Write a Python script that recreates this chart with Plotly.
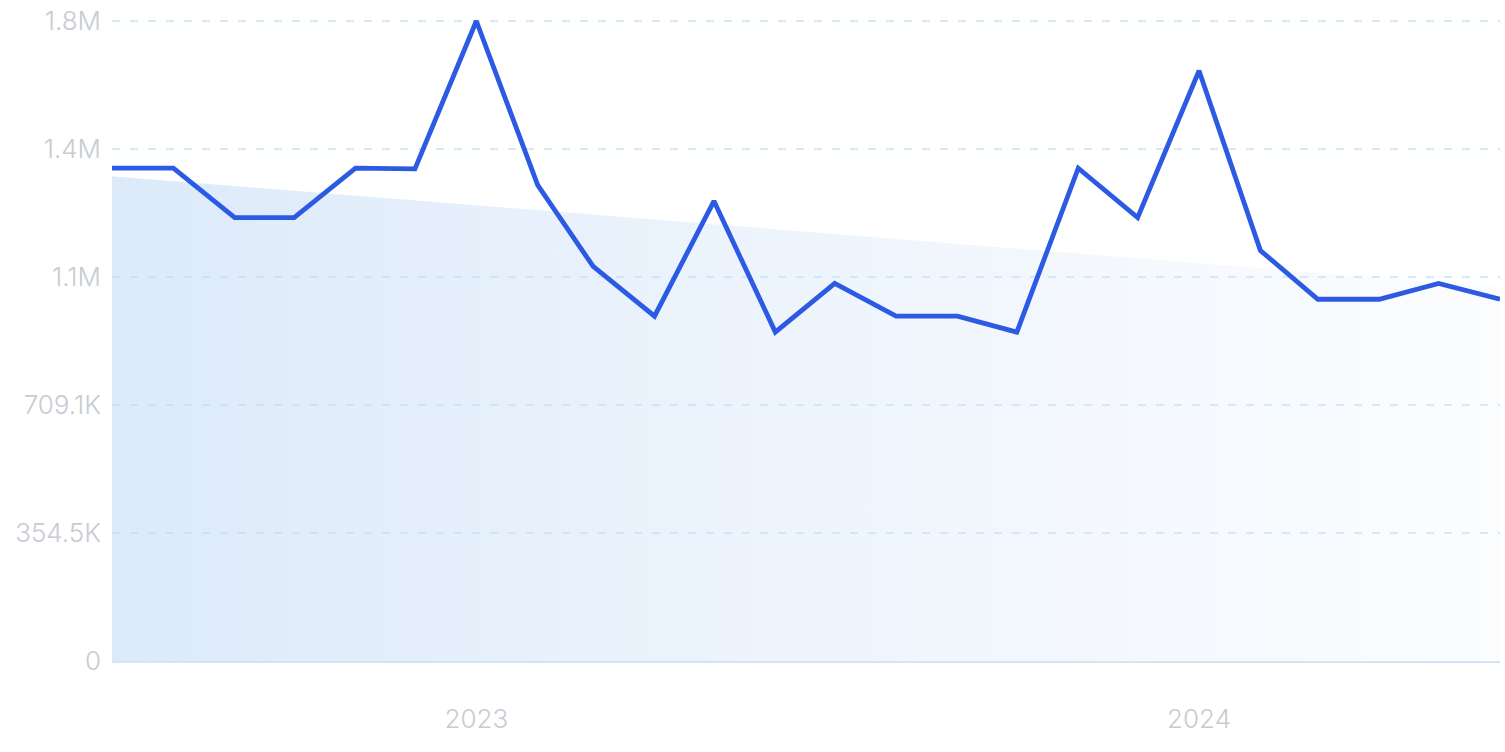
import plotly.graph_objects as go

months = [
    "2022-07-01", "2022-08-01", "2022-09-01", "2022-10-01", "2022-11-01", "2022-12-01",
    "2023-01-01", "2023-02-01", "2023-03-01", "2023-04-01", "2023-05-01", "2023-06-01",
    "2023-07-01", "2023-08-01", "2023-09-01", "2023-10-01", "2023-11-01", "2023-12-01",
    "2024-01-01", "2024-02-01", "2024-03-01", "2024-04-01", "2024-05-01", "2024-06-01",
]
volume = [
    1365000, 1365000, 1228000, 1228000, 1365000, 1363000,
    1772727, 1318000, 1093000, 955000, 1274000, 911000,
    1046000, 955000, 955000, 911000, 1365000, 1228000,
    1635000, 1137000, 1002000, 1002000, 1046000, 1002000,
]

trend_dates = ["2022-07-01", "2024-06-01"]
trend_values = [1343000, 1035000]

y_tickvals = [0, 354545, 709091, 1063636, 1418182, 1772727]
y_ticktext = ["0", "354.5K", "709.1K", "1.1M", "1.4M", "1.8M"]
x_tickvals = ["2023-01-01", "2024-01-01"]
x_ticktext = ["2023", "2024"]

fig = go.Figure()

fig.add_trace(go.Scatter(
    x=trend_dates, y=trend_values,
    mode="lines", line=dict(width=0, color="rgba(0,0,0,0)"),
    fill="tozeroy",
    fillgradient=dict(
        type="horizontal",
        colorscale=[[0, "rgba(196,219,246,0.6)"], [1, "rgba(215,230,248,0.1)"]],
    ),
    hoverinfo="skip", showlegend=False,
))

fig.add_trace(go.Scatter(
    x=months, y=volume,
    mode="lines", line=dict(color="#2c5ae3", width=4.8),
    showlegend=False,
))

font_family = "Inter"
tick_font = dict(family=font_family, size=26, color="#c8cbd3", weight=300)

plot_top = 14
fig.update_layout(
    width=1505, height=752,
    margin=dict(l=112, r=5, t=plot_top, b=91),
    paper_bgcolor="white", plot_bgcolor="white",
    font=tick_font,
    xaxis=dict(
        range=[months[0], months[-1]],
        tickvals=x_tickvals, ticktext=x_ticktext,
        showgrid=False, zeroline=False,
        showline=True, linecolor="#d3e3f8", linewidth=1.5,
        ticks="", ticklabelstandoff=34,
        tickfont=tick_font, fixedrange=True,
    ),
    yaxis=dict(
        range=[0, y_tickvals[-1] * 647 / 644],
        tickvals=y_tickvals, ticktext=y_ticktext,
        showgrid=True, gridcolor="rgba(140,205,250,0.4)", griddash="8px,10px", gridwidth=2,
        zeroline=False, showline=False,
        ticks="", ticklabelstandoff=10,
        tickfont=tick_font, fixedrange=True,
    ),
)

fig.write_html(
    "out.html",
    config={"displayModeBar": False},
    post_script="document.body.style.margin='0';document.body.style.overflow='hidden';",
)
